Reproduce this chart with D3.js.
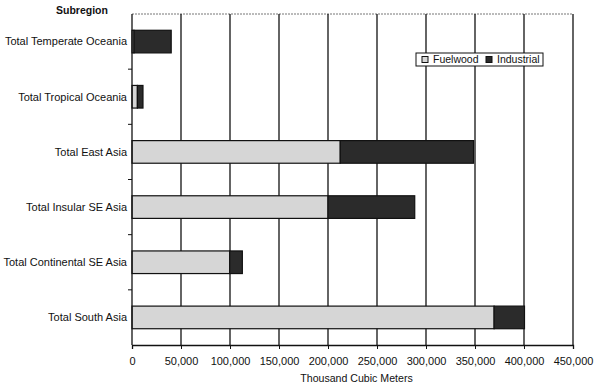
<!DOCTYPE html>
<html>
<head>
<meta charset="utf-8">
<script src="https://cdn.jsdelivr.net/npm/d3@7"></script>
<style>
  body { margin: 0; background: #fff; }
  text { font-family: "Liberation Sans", Arial, sans-serif; fill: #111; }
</style>
</head>
<body>
<svg id="viz"></svg>
<script>
// ----------------------- DATA
const subregions = [
  'Total Temperate Oceania',
  'Total Tropical Oceania',
  'Total East Asia',
  'Total Insular SE Asia',
  'Total Continental SE Asia',
  'Total South Asia'
];
const fuelwood = [2000, 5500, 212500, 200000, 99700, 369500];
const industrial = [38000, 5700, 136000, 88500, 12900, 31000];
const seriesNames = ['Fuelwood', 'Industrial'];
const xTicks = [0, 50000, 100000, 150000, 200000, 250000, 300000, 350000, 400000, 450000];

// ----------------------- SETTINGS
const margin = { top: 14, right: 27, bottom: 41, left: 132 },
  width = 600 - margin.left - margin.right,
  height = 386 - margin.top - margin.bottom;

const colors = { Fuelwood: '#d6d6d6', Industrial: '#2b2b2b' };

const svg = d3.select('#viz')
  .attr('width', 600)
  .attr('height', 386);

const chart = svg.append('g')
  .attr('transform', `translate(${margin.left}, ${margin.top})`);

// ----------------------- SCALES
const x = d3.scaleLinear()
  .domain([0, 450000])
  .range([0, width]);

const y = d3.scaleBand()
  .domain(subregions)
  .range([0, height])
  .paddingInner(0.59)
  .paddingOuter(0.295);

// stacked rows
const rows = subregions.map((s, i) => ({ name: s, Fuelwood: fuelwood[i], Industrial: industrial[i] }));
const stacked = d3.stack().keys(seriesNames)(rows);

// top border (dotted)
chart.append('line')
  .attr('x1', 0).attr('x2', width)
  .attr('y1', 0).attr('y2', 0)
  .attr('stroke', '#777')
  .attr('stroke-dasharray', '2,1');

// gridlines
chart.append('g')
  .selectAll('line')
  .data(xTicks.slice(1))
  .enter().append('line')
  .attr('x1', d => x(d)).attr('x2', d => x(d))
  .attr('y1', 0).attr('y2', height)
  .attr('stroke', '#111')
  .attr('stroke-width', 1.3);

// bars
chart.selectAll('.series')
  .data(stacked)
  .enter().append('g')
  .attr('class', 'series')
  .attr('fill', d => colors[d.key])
  .selectAll('rect')
  .data(d => d)
  .enter().append('rect')
  .attr('x', d => x(d[0]))
  .attr('y', d => y(d.data.name))
  .attr('width', d => x(d[1]) - x(d[0]))
  .attr('height', y.bandwidth())
  .attr('stroke', '#111')
  .attr('stroke-width', 1.2);

// axis x
const xAxis = chart.append('g')
  .attr('transform', `translate(0, ${height})`)
  .call(d3.axisBottom(x).tickValues(xTicks).tickSize(4).tickPadding(8)
    .tickFormat(d3.format(',')));
xAxis.select('.domain').attr('stroke', '#111').attr('stroke-width', 1.3);
xAxis.selectAll('line').attr('stroke', '#111');
xAxis.selectAll('text').style('font-size', '11px').style('font-family', null);

chart.append('text')
  .attr('x', width / 2 + 4)
  .attr('y', height + 37)
  .attr('text-anchor', 'middle')
  .style('font-size', '10.6px')
  .text('Thousand Cubic Meters');

// axis y: ticks sit between categories
const yAxis = chart.append('g');
yAxis.append('line')
  .attr('x1', 0).attr('x2', 0).attr('y1', 0).attr('y2', height)
  .attr('stroke', '#111').attr('stroke-width', 1.3);
yAxis.selectAll('.ytick')
  .data(d3.range(1, subregions.length))
  .enter().append('line')
  .attr('x1', -4).attr('x2', 0)
  .attr('y1', d => d * height / subregions.length)
  .attr('y2', d => d * height / subregions.length)
  .attr('stroke', '#111');
yAxis.selectAll('.ylabel')
  .data(subregions)
  .enter().append('text')
  .attr('x', -5)
  .attr('y', d => y(d) + y.bandwidth() / 2)
  .attr('dy', '0.35em')
  .attr('text-anchor', 'end')
  .style('font-size', '11px')
  .text(d => d);

svg.append('text')
  .attr('x', 56)
  .attr('y', 14)
  .style('font-size', '10.5px')
  .style('font-weight', 'bold')
  .text('Subregion');

// legend
const legend = svg.append('g').attr('transform', 'translate(416, 53)');
legend.append('rect')
  .attr('width', 127).attr('height', 13)
  .attr('fill', '#fff').attr('stroke', '#111');
const items = legend.selectAll('.item')
  .data(seriesNames)
  .enter().append('g')
  .attr('transform', (d, i) => `translate(${i === 0 ? 6 : 70}, 0)`);
items.append('rect')
  .attr('y', 3.5).attr('width', 6).attr('height', 6)
  .attr('fill', d => colors[d]).attr('stroke', '#111');
items.append('text')
  .attr('x', 11).attr('y', 6.5).attr('dy', '0.35em')
  .style('font-size', '10.5px')
  .text(d => d);
</script>
</body>
</html>
